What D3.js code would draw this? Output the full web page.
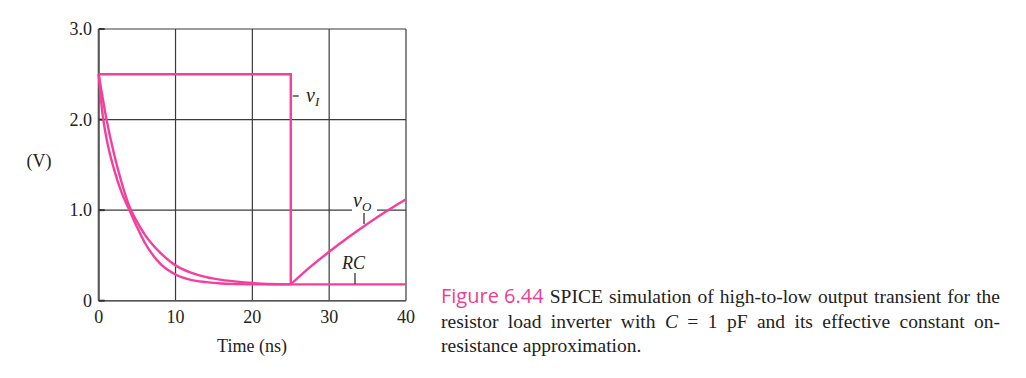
<!DOCTYPE html>
<html><head><meta charset="utf-8">
<script src="https://cdn.jsdelivr.net/npm/d3@7"></script>
<style>body{margin:0;background:#fff}svg{display:block}</style>
</head><body>
<svg id="c" width="1026" height="378"></svg>
<script>
const xTicks = [0, 10, 20, 30, 40];
const yTicks = [0, 1, 2, 3];
const yTickLabels = ["0", "1.0", "2.0", "3.0"];
// v_I input step
const vI_t = [0, 25, 25];
const vI_v = [2.5, 2.5, 0.18];
// SPICE output v_O: falling part
const vOfall_t = [0, 0.5, 1, 2, 3, 4, 5, 6, 7, 8, 10, 12, 14, 16, 18, 20, 22, 25];
const vOfall_v = [2.5, 2.06, 1.80, 1.45, 1.19, 1.00, 0.81, 0.64, 0.51, 0.41, 0.29, 0.23, 0.205, 0.19, 0.185, 0.18, 0.18, 0.18];
// SPICE output v_O: rising part after the input falls
const vOrise_t = [25, 27.5, 30, 32.5, 35, 37.5, 40];
const vOrise_v = [0.18, 0.37, 0.54, 0.70, 0.85, 0.99, 1.12];
// RC approximation
const rc_t = [0, 1, 2, 3, 4, 5, 6, 7, 8, 10, 12, 14, 16, 18, 20, 22, 25, 30, 40];
const rc_v = [2.5, 2.01, 1.62, 1.30, 1.04, 0.87, 0.73, 0.62, 0.53, 0.39, 0.31, 0.26, 0.23, 0.21, 0.195, 0.185, 0.18, 0.18, 0.18];

const pink = "#f43f9c";
const svg = d3.select("#c");
const x = d3.scaleLinear().domain([0, 40]).range([98.7, 406]);
const y = d3.scaleLinear().domain([0, 3]).range([300.7, 29]);
const serif = "'Liberation Serif','Times New Roman',serif";

// grid
const g = svg.append("g");
g.selectAll("line.vx").data(xTicks).join("line")
  .attr("x1", d => x(d)).attr("x2", d => x(d)).attr("y1", y(0)).attr("y2", y(3))
  .attr("stroke", "#3a3a3a").attr("stroke-width", 1.2);
g.selectAll("line.hy").data(yTicks).join("line")
  .attr("x1", x(0)).attr("x2", x(40)).attr("y1", d => y(d)).attr("y2", d => y(d))
  .attr("stroke", "#3a3a3a").attr("stroke-width", 1.2);
g.append("line").attr("x1", x(0)).attr("x2", x(0)).attr("y1", y(0)).attr("y2", y(3))
  .attr("stroke", "#555").attr("stroke-width", 2);
g.append("line").attr("x1", x(0)).attr("x2", x(40)).attr("y1", y(0)).attr("y2", y(0))
  .attr("stroke", "#555").attr("stroke-width", 1.6);
g.selectAll("line.tk").data(yTicks).join("line")
  .attr("x1", x(0)).attr("x2", x(0) + 6).attr("y1", d => y(d)).attr("y2", d => y(d))
  .attr("stroke", "#333").attr("stroke-width", 2);

// tick labels
svg.selectAll("text.yl").data(yTicks).join("text")
  .attr("x", 92).attr("y", d => y(d) + 6).attr("text-anchor", "end")
  .attr("font-family", serif).attr("font-size", 18).attr("fill", "#222")
  .text((d, i) => yTickLabels[i]);
svg.selectAll("text.xl").data(xTicks).join("text")
  .attr("x", d => x(d)).attr("y", 323).attr("text-anchor", "middle")
  .attr("font-family", serif).attr("font-size", 18).attr("fill", "#222")
  .text(d => d);
svg.append("text").attr("x", 252).attr("y", 352).attr("text-anchor", "middle")
  .attr("font-family", serif).attr("font-size", 18).attr("fill", "#222").text("Time (ns)");
svg.append("text").attr("x", 39).attr("y", 167).attr("text-anchor", "middle")
  .attr("font-family", serif).attr("font-size", 18).attr("fill", "#222").text("(V)");

// v_O label background (gap in gridline)
svg.append("rect").attr("x", 352).attr("y", 193).attr("width", 25).attr("height", 20).attr("fill", "#fff");

const line = d3.line().x(d => x(d[0])).y(d => y(d[1]));
const lineC = d3.line().x(d => x(d[0])).y(d => y(d[1])).curve(d3.curveMonotoneX);
const zip = (a, b) => a.map((t, i) => [t, b[i]]);

svg.append("path").attr("d", lineC(zip(rc_t, rc_v))).attr("fill", "none").attr("stroke", pink).attr("stroke-width", 2.4);
svg.append("path").attr("d", lineC(zip(vOfall_t, vOfall_v))).attr("fill", "none").attr("stroke", pink).attr("stroke-width", 2.4);
svg.append("path").attr("d", lineC(zip(vOrise_t, vOrise_v))).attr("fill", "none").attr("stroke", pink).attr("stroke-width", 2.4);
svg.append("path").attr("d", line(zip(vI_t, vI_v))).attr("fill", "none").attr("stroke", pink).attr("stroke-width", 2.4);

// annotations
const ann = svg.append("g").attr("stroke", "#333").attr("stroke-width", 1.3);
ann.append("line").attr("x1", x(25) + 2).attr("x2", x(25) + 8).attr("y1", 96).attr("y2", 96);
ann.append("line").attr("x1", 364).attr("x2", 364).attr("y1", 213).attr("y2", 224);
ann.append("line").attr("x1", 355).attr("x2", 355).attr("y1", 273).attr("y2", 284);

function sublabel(xp, yp, main, sub, dy) {
  const t = svg.append("text").attr("x", xp).attr("y", yp)
    .attr("font-family", serif).attr("font-size", 20).attr("font-style", "italic").attr("fill", "#222");
  t.append("tspan").text(main);
  t.append("tspan").attr("font-size", 13).attr("dy", dy).text(sub);
}
sublabel(306, 102, "v", "I", 4);
sublabel(353, 207, "v", "O", 4);
svg.append("text").attr("x", 342).attr("y", 269).attr("font-family", serif).attr("font-size", 18)
  .attr("font-style", "italic").attr("fill", "#222").text("RC");

// caption with word-justified lines
const capSize = 19.5;
function justifyLine(words, x0, x1, yb) {
  const gl = svg.append("g");
  const nodes = words.map(w => gl.append("text").attr("y", yb)
    .attr("font-family", w.font || serif).attr("font-size", w.size || capSize)
    .attr("font-style", w.italic ? "italic" : null)
    .attr("fill", w.color || "#222").text(w.t));
  const widths = nodes.map(n => n.node().getComputedTextLength());
  const total = widths.reduce((a, b) => a + b, 0);
  const gap = x1 ? (x1 - x0 - total) / (words.length - 1) : capSize * 0.25;
  let cx = x0;
  nodes.forEach((n, i) => { n.attr("x", cx); cx += widths[i] + gap + (words[i].extra || 0); });
}
const sans = "'Open Sans','DejaVu Sans',sans-serif";
const w1 = [{t: "Figure 6.44", font: sans, size: 20, color: "#ec3f8f"}]
  .concat("SPICE simulation of high-to-low output transient for the".split(" ").map(t => ({t})));
justifyLine(w1, 441, 1000, 303);
const w2 = ["resistor", "load", "inverter", "with"].map(t => ({t}))
  .concat([{t: "C", italic: true}, {t: "="}, {t: "1"}])
  .concat(["pF", "and", "its", "effective", "constant", "on-"].map(t => ({t})));
justifyLine(w2, 441, 1000, 328);
justifyLine("resistance approximation.".split(" ").map(t => ({t})), 441, null, 352);
</script>
</body></html>
